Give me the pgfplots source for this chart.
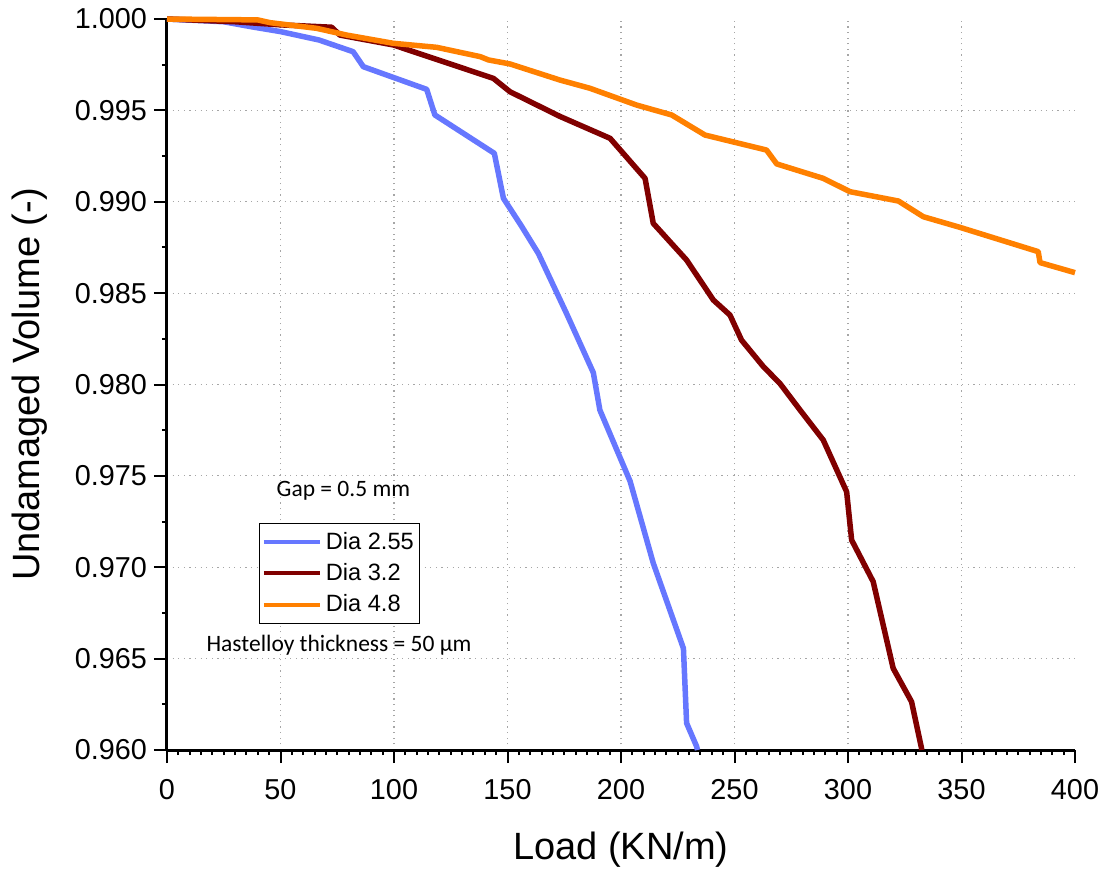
\documentclass[border=0pt]{standalone}
\usepackage{pgfplots}
\pgfplotsset{compat=1.18}
\usepackage{fontspec}
\setmainfont{Liberation Sans}
\newfontfamily\calfont{Carlito}
\definecolor{cblue}{RGB}{102,119,255}
\definecolor{cred}{RGB}{128,0,0}
\definecolor{corange}{RGB}{255,128,0}
\begin{document}
\begin{tikzpicture}
\useasboundingbox (-83.5pt,-59pt) rectangle (467pt,375pt);
\begin{axis}[
  at={(0,0)}, anchor=south west,
  scale only axis, width=454pt, height=365.5pt,
  xmin=0, xmax=400, ymin=0.96, ymax=1.0,
  clip=false,
  axis x line=bottom, axis y line=left,
  axis line style={-, line width=1.5pt, black},
  xtick={0,50,...,350},
  minor xtick={0,5,...,400},
  extra x ticks={400},
  ytick={0.96,0.965,...,0.9951},
  minor ytick={0.9625,0.9675,...,0.9980},
  extra y ticks={1.0},
  extra tick style={grid=none},
  tick align=outside,
  major tick length=6.5pt, minor tick length=2.5pt,
  tick style={black, line width=1pt},
  grid=major,
  major grid style={gray!70, line width=0.6pt, dash pattern=on 0.6pt off 2.2pt},
  xticklabel={\pgfmathprintnumber[assume math mode=true]{\tick}},
  yticklabel={\pgfmathprintnumber[fixed,fixed zerofill,precision=3,assume math mode=true]{\tick}},
  ticklabel style={font=\fontsize{14.4pt}{16pt}\selectfont},
  xticklabel shift=4.5pt,
  xlabel={Load (KN/m)},
  ylabel={Undamaged Volume (-)},
  label style={font=\fontsize{19pt}{22pt}\selectfont},
  xlabel style={at={(axis description cs:0.5,-0.136)}, anchor=center},
  ylabel style={at={(axis description cs:-0.1509,0.5)}, anchor=center},
  legend style={at={(axis cs:40.7,0.9724)}, anchor=north west, draw=black, line width=0.5pt,
    font=\fontsize{11.8pt}{13pt}\selectfont, row sep=1.5pt, inner xsep=1pt, inner ysep=2.2pt},
  legend cell align=left,
  legend image code/.code={\draw[#1, line width=2pt] (0pt,0pt) -- (28pt,0pt);},
]
\addplot[cblue, line width=2.75pt, line join=round] coordinates {
(0,1.0000) (25,0.99985) (37,0.99958) (50,0.99931) (67,0.99885) (82,0.99821)
(86.5,0.99739) (114.4,0.99615) (118,0.99475) (144.2,0.99265) (148.2,0.99019)
(156,0.98870) (163.6,0.98717) (176.1,0.98386) (187.8,0.98065) (190.7,0.97860)
(204,0.97471) (214.2,0.97023) (227.5,0.96556) (228.9,0.96147) (233.3,0.96020) (233.7,0.9600)
};
\addlegendentry{Dia 2.55}
\addplot[cred, line width=2.75pt, line join=round] coordinates {
(0,1.0000) (30,0.99985) (50,0.99968) (72.5,0.99955) (76.2,0.99912) (99.7,0.99858)
(143.8,0.99675) (151.1,0.99602) (173.1,0.99467) (195.2,0.99347) (210.6,0.99128)
(214.2,0.98882) (228.9,0.98681) (240.7,0.98462) (248,0.98380) (253.1,0.98243)
(262.7,0.98098) (270,0.98006) (278.9,0.97860) (289.1,0.97696) (299.4,0.97413)
(301.6,0.97149) (311.1,0.96921) (319.9,0.96447) (328,0.96264) (332.4,0.96009) (332.5,0.9600)
};
\addlegendentry{Dia 3.2}
\addplot[corange, line width=2.75pt, line join=round] coordinates {
(0,1.0000) (40,0.99995) (45.4,0.99980) (65.9,0.99949) (79.2,0.99912) (99.7,0.99867)
(118.8,0.99845) (138,0.99794) (141.6,0.99776) (151.1,0.99754) (173.1,0.99666)
(186.3,0.99621) (206.9,0.99529) (222.3,0.99475) (237,0.99365) (264.1,0.99283)
(268.6,0.99207) (289.1,0.99128) (300.9,0.99055) (322.2,0.99004) (333.2,0.98918)
(349.3,0.98860) (383.8,0.98727) (384.6,0.98667) (400,0.98612)
};
\addlegendentry{Dia 4.8}
\node[font=\calfont\fontsize{11.75pt}{13pt}\selectfont] at (axis cs:77.7,0.97419) {Gap = 0.5 mm};
\node[font=\calfont\fontsize{11.75pt}{13pt}\selectfont] at (axis cs:75.8,0.96575) {Hastelloy thickness = 50 µm};
\end{axis}
\end{tikzpicture}
\end{document}
